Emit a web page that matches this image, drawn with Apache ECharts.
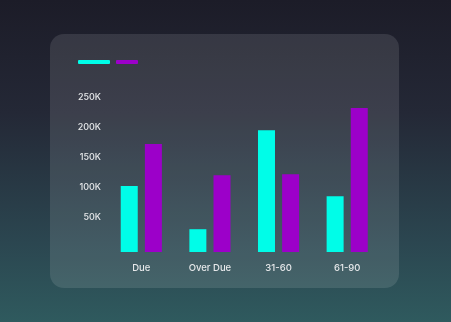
<!DOCTYPE html>
<html>
<head>
<meta charset="utf-8">
<script src="https://cdn.jsdelivr.net/npm/echarts@6/dist/echarts.min.js"></script>
<style>
  html, body { margin: 0; padding: 0; }
  body {
    width: 451px; height: 322px; overflow: hidden;
    background: linear-gradient(180deg, #1c1c28 0%, #242836 35%, #2b4650 75%, #2f5a5e 100%);
    position: relative;
  }
  .card {
    position: absolute; left: 50px; top: 34px; width: 349px; height: 254px;
    border-radius: 14px;
    background: rgba(255, 255, 255, 0.11);
  }
  #chart { position: absolute; left: 0; top: 0; width: 451px; height: 322px; }
</style>
</head>
<body>
<div class="card"></div>
<div id="chart"></div>
<script>
// Aging buckets and the two receivable series
const categories = ['Due', 'Over Due', '31-60', '61-90'];
const seriesNames = ['Current', 'Previous'];
const currentValues = [110000, 38000, 203000, 93000];
const previousValues = [180000, 128000, 129500, 240000];
const colors = ['#00fde8', '#9c00c9'];

const chart = echarts.init(document.getElementById('chart'), null, { renderer: 'canvas' });

const labelFont = { fontFamily: 'Inter, "Noto Sans", sans-serif', fontWeight: 500, color: '#e6e8ea' };

chart.setOption({
  backgroundColor: 'transparent',
  animation: false,
  legend: [
    {
      left: 78, top: 60, itemWidth: 32, itemHeight: 4, icon: 'roundRect',
      data: [seriesNames[0]], formatter: () => '', textStyle: { fontSize: 1, padding: 0 },
      padding: 0, selectedMode: false
    },
    {
      left: 116, top: 60, itemWidth: 22, itemHeight: 4, icon: 'roundRect',
      data: [seriesNames[1]], formatter: () => '', textStyle: { fontSize: 1, padding: 0 },
      padding: 0, selectedMode: false
    }
  ],
  grid: { left: 107, right: 69.5, top: 102, bottom: 70, containLabel: false },
  xAxis: {
    type: 'category',
    data: categories,
    axisLine: { show: false },
    axisTick: { show: false },
    axisLabel: Object.assign({ fontSize: 9.5, margin: 11 }, labelFont)
  },
  yAxis: {
    type: 'value',
    min: 0, max: 250000, interval: 50000,
    splitLine: { show: false },
    axisLine: { show: false },
    axisTick: { show: false },
    axisLabel: Object.assign({
      fontSize: 9, margin: 6, showMinLabel: false,
      verticalAlign: 'bottom',
      formatter: v => (v / 1000) + 'K'
    }, labelFont)
  },
  series: [
    {
      name: seriesNames[0], type: 'bar', data: currentValues,
      barWidth: 17, barGap: '42%', itemStyle: { color: colors[0] }
    },
    {
      name: seriesNames[1], type: 'bar', data: previousValues,
      barWidth: 17, barGap: '42%', itemStyle: { color: colors[1] }
    }
  ]
});
</script>
</body>
</html>
